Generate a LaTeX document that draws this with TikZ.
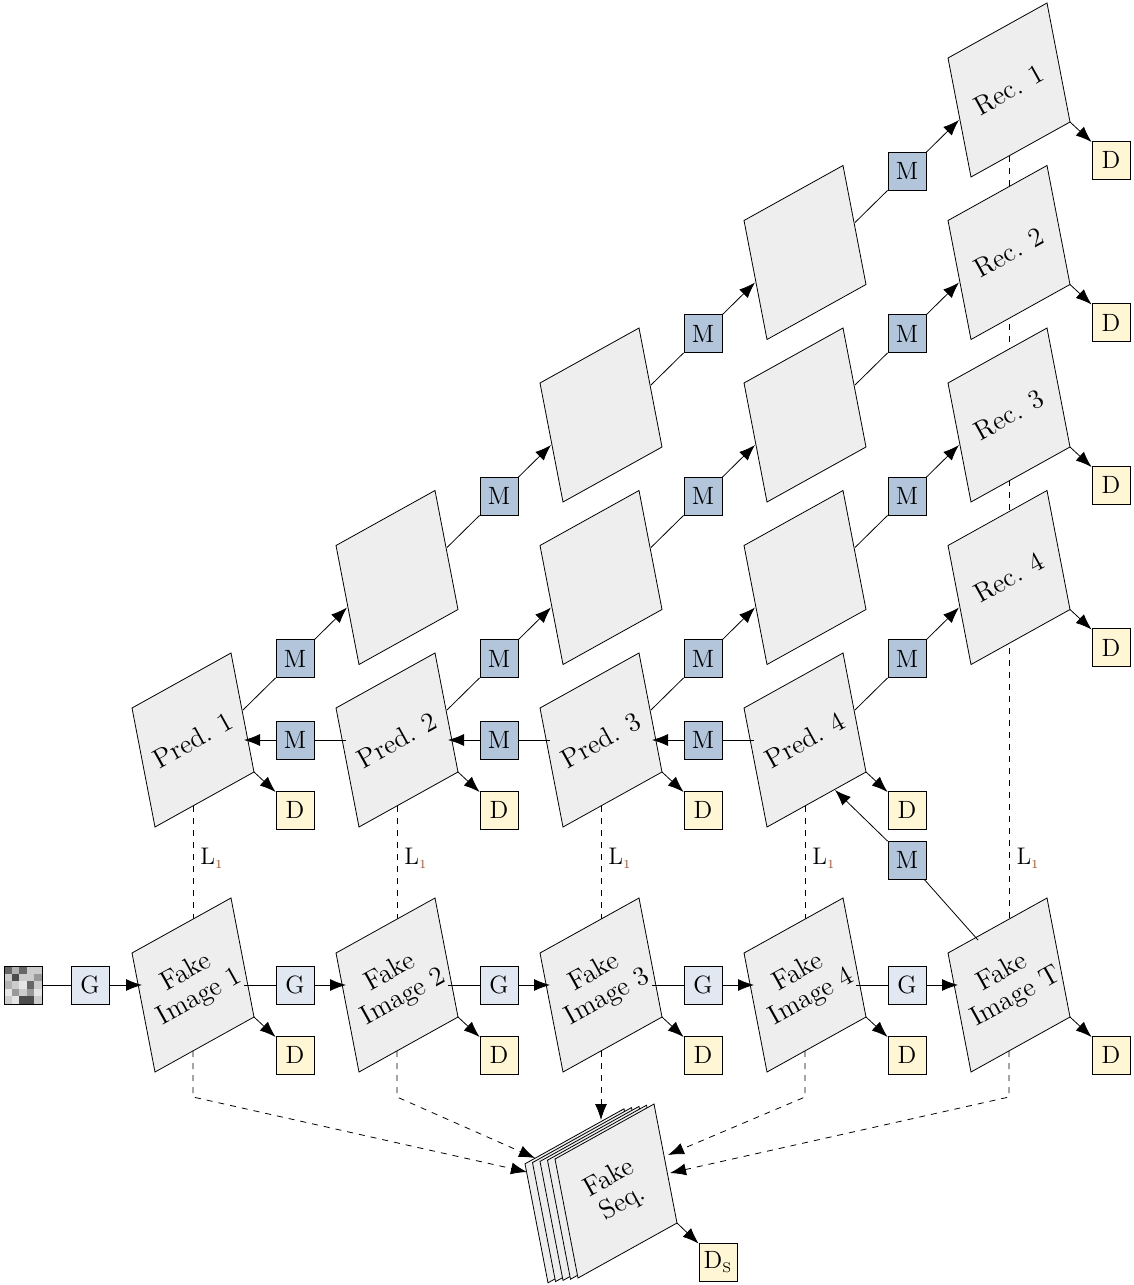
\documentclass[tikz,border=0pt]{standalone}
\usepackage{amsmath}
\usepackage{xcolor}
\usetikzlibrary{arrows.meta,positioning,calc}
\definecolor{framegray}{HTML}{EEEEEE}
\definecolor{gfill}{HTML}{E1E8F1}
\definecolor{mfill}{HTML}{B3C5DB}
\definecolor{dfill}{HTML}{FFF6D5}
\definecolor{lsub}{HTML}{A0522D}
\tikzset{
  box/.style={draw,minimum size=19pt,inner sep=0pt,font=\fontsize{12.5}{14}\selectfont},
  gbox/.style={box,fill=gfill},
  mbox/.style={box,fill=mfill},
  dbox/.style={box,fill=dfill},
  conn/.style={-{Latex[length=8pt,width=6pt]}},
  loss/.style={dashed},
}
% parallelogram frame: name, centre, text
\newcommand{\imgframe}[3]{
  \begin{scope}[shift={(#2)}]
    \draw[fill=framegray] (-61,-32) -- (38,-87) -- (61,32) -- (-38,87) -- cycle;
    \node[rotate=29,align=center,font=\fontsize{13.5}{14}\selectfont] (#1) at (0,0) {#3};
    \coordinate (#1-l) at (-51,0);
    \coordinate (#1-r) at (51,0);
    \coordinate (#1-ur) at (50,-30);
    \coordinate (#1-ll) at (-50,30);
    \coordinate (#1-br) at (61,32);
    \coordinate (#1-t) at (0,-66);
    \coordinate (#1-b) at (0,66);
  \end{scope}
}
\begin{document}
\begin{tikzpicture}[x=0.5pt,y=-0.5pt,line width=0.4pt]
\useasboundingbox (0,0) rectangle (1134,1285);

% dashed loss lines behind the frames
\coordinate (base) at (0,1097);
\foreach \c in {1,2,3,4}
  \draw[loss] (193+204*\c-204,806) -- (193+204*\c-204,919);
\draw[loss] (1009,156) -- (1009,919);
\foreach \c in {1,...,5}
  \node[font=\fontsize{12}{14}\selectfont] (l\c) at (212+204*\c-204,858) {L$_{\textcolor{lsub}{\scriptscriptstyle 1}}$};

% fake images
\imgframe{f1}{193,985}{Fake\\Image 1}
\imgframe{f2}{397,985}{Fake\\Image 2}
\imgframe{f3}{601,985}{Fake\\Image 3}
\imgframe{f4}{805,985}{Fake\\Image 4}
\imgframe{f5}{1009,985}{Fake\\Image T}

% predictions and reconstructions
\imgframe{p1}{193,740}{Pred. 1}
\imgframe{p2}{397,740}{Pred. 2}
\imgframe{p3}{601,740}{Pred. 3}
\imgframe{p4}{805,740}{Pred. 4}
\imgframe{b22}{397,577.5}{}
\imgframe{b32}{601,577.5}{}
\imgframe{b33}{601,415}{}
\imgframe{b42}{805,577.5}{}
\imgframe{b43}{805,415}{}
\imgframe{b44}{805,252.5}{}
\imgframe{r1}{1009,90}{Rec. 1}
\imgframe{r2}{1009,252.5}{Rec. 2}
\imgframe{r3}{1009,415}{Rec. 3}
\imgframe{r4}{1009,577.5}{Rec. 4}

% fake sequence stack
\foreach \k in {4,3,2,1}
  \draw[fill=framegray,shift={(616-7.5*\k,1191+1.2*\k)}]
    (-61,-32) -- (38,-87) -- (61,32) -- (-38,87) -- cycle;
\imgframe{seq}{616,1191}{Fake\\Seq.}
\coordinate (seq-w1) at (527,1172);
\coordinate (seq-w2) at (535,1158);
\coordinate (seq-n) at (601,1120);
\coordinate (seq-e1) at (668,1155);
\coordinate (seq-e2) at (670,1173);

% noise input
\foreach \g [count=\i from 0] in {60,30,60,20,20, 20,70,20,20,40, 30,20,10,60,20, 10,40,20,40,10, 20,10,70,70,20}
  \fill[black!\g] ({4+7.6*mod(\i,5)},{966+7.6*int(\i/5)}) rectangle ++(7.6,7.6);
\node[draw,minimum size=19pt,inner sep=0pt] (z) at (23,985) {};

% generator chain
\node[gbox] (g1) at (90,985) {G};
\draw (z) -- (g1);
\draw[conn] (g1) -- (f1-l);
\foreach \a/\b [count=\i] in {f1/f2,f2/f3,f3/f4,f4/f5} {
  \node[gbox] (g\b) at (295+204*\i-204,985) {G};
  \draw (\a-r) -- (g\b);
  \draw[conn] (g\b) -- (\b-l);
}

% discriminators
\foreach \f in {f1,f2,f3,f4,f5,p1,p2,p3,p4,r1,r2,r3,r4} {
  \node[dbox] (d\f) at ($(\f)+(102,70)$) {D};
}
\foreach \f in {f1,f2,f3,f4,f5,p1,p2,p3,p4,r1,r2,r3,r4}
  \draw[conn] (\f-br) -- (d\f);

% motion steps backwards
\foreach \a/\b [count=\i] in {p2/p1,p3/p2,p4/p3} {
  \node[mbox] (mb\b) at (295+204*\i-204,740) {M};
  \draw (\a-l) -- (mb\b);
  \draw[conn] (mb\b) -- (\b-r);
}
\node[mbox] (mt) at (907,860) {M};
\coordinate (p4-bt) at (835,790);
\coordinate (f5-in) at (978,940);
\draw (f5-in) -- (mt);
\draw[conn] (mt) -- (p4-bt);

% motion steps forwards
\foreach \a/\b in {p1/b22,b22/b33,b33/b44,b44/r1,p2/b32,b32/b43,b43/r2,p3/b42,b42/r3,p4/r4} {
  \node[mbox] (m\a\b) at ($(\a)!0.5!(\b)$) {M};
  \draw (\a-ur) -- (m\a\b);
  \draw[conn] (m\a\b) -- (\b-ll);
}

% sequence discriminator
\draw[loss,conn] (f1-b) -- (f1-b |- base) -- (seq-w1);
\draw[loss,conn] (f2-b) -- (f2-b |- base) -- (seq-w2);
\draw[loss,conn] (f3-b) -- (seq-n);
\draw[loss,conn] (f4-b) -- (f4-b |- base) -- (seq-e1);
\draw[loss,conn] (f5-b) -- (f5-b |- base) -- (seq-e2);
\node[dbox] (ds) at (718,1262) {D$_{\text{\scriptsize S}}$};
\draw[conn] (seq-br) -- (ds);
\end{tikzpicture}
\end{document}
